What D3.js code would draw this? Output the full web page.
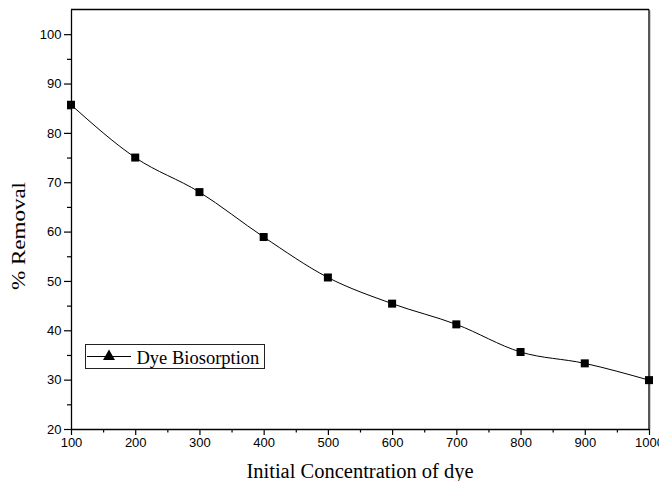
<!DOCTYPE html>
<html><head><meta charset="utf-8">
<script src="https://cdn.jsdelivr.net/npm/d3@7"></script>
<style>body{margin:0;background:#fff}svg{display:block}</style>
</head><body>
<script>
const concentrations = [100, 200, 300, 400, 500, 600, 700, 800, 900, 1000];
const removal = [85.7, 75.0, 68.0, 58.9, 50.7, 45.4, 41.2, 35.6, 33.3, 29.9];
const xTicks = [100, 200, 300, 400, 500, 600, 700, 800, 900, 1000];
const yTicks = [20, 30, 40, 50, 60, 70, 80, 90, 100];
const seriesName = "Dye Biosorption";
const xTitle = "Initial Concentration of dye";
const yTitle = "% Removal";

const W = 659, H = 481;
const m = {left: 71, right: 10, top: 9.5, bottom: 52};
const svg = d3.select("body").append("svg").attr("width", W).attr("height", H);
const x = d3.scaleLinear().domain([100, 1000]).range([m.left, W - m.right]);
const y = d3.scaleLinear().domain([20, 105]).range([H - m.bottom, m.top]);

// frame (top & right)
svg.append("line").attr("x1", x(1000)+1.2).attr("x2", x(1000)+1.2).attr("y1", y(105)+1).attr("y2", y(20)).attr("stroke", "#bbb").attr("stroke-width", 1);
svg.append("line").attr("x1", x(100)).attr("x2", x(1000)).attr("y1", y(105)).attr("y2", y(105)).attr("stroke", "#000").attr("stroke-width", 1.3);
svg.append("line").attr("x1", x(1000)).attr("x2", x(1000)).attr("y1", y(105)).attr("y2", y(20)).attr("stroke", "#000").attr("stroke-width", 1.3);

const font = "'Liberation Sans', Arial, sans-serif";
// x axis
const xMinor = d3.range(150, 1000, 100);
const xa = svg.append("g").attr("transform", `translate(0,${y(20)})`)
  .call(d3.axisBottom(x).tickValues(xTicks).tickSize(6).tickPadding(3).tickSizeOuter(0).tickFormat(d3.format("d")));
xa.select(".domain").attr("stroke-width", 1.3);
xa.selectAll(".tick line").attr("stroke-width", 1.2);
xa.selectAll("text").attr("font-family", font).attr("font-size", 13).attr("fill", "#000");
const xm = svg.append("g").attr("transform", `translate(0,${y(20)})`)
  .call(d3.axisBottom(x).tickValues(xMinor).tickSize(3.5).tickFormat("").tickSizeOuter(0));
xm.select(".domain").remove();
xm.selectAll(".tick line").attr("stroke-width", 1.2);

// y axis
const yMinor = d3.range(25, 105, 10);
const ya = svg.append("g").attr("transform", `translate(${x(100)},0)`)
  .call(d3.axisLeft(y).tickValues(yTicks).tickSize(7).tickPadding(2.5).tickSizeOuter(0));
ya.select(".domain").attr("stroke-width", 1.3);
ya.selectAll(".tick line").attr("stroke-width", 1.2);
ya.selectAll("text").attr("font-family", font).attr("font-size", 13).attr("fill", "#000");
const ym = svg.append("g").attr("transform", `translate(${x(100)},0)`)
  .call(d3.axisLeft(y).tickValues(yMinor).tickSize(4).tickFormat("").tickSizeOuter(0));
ym.select(".domain").remove();
ym.selectAll(".tick line").attr("stroke-width", 1.2);

// line
const pts = concentrations.map((c, i) => [c, removal[i]]);
svg.append("path").datum(pts)
  .attr("d", d3.line().x(d => x(d[0])).y(d => y(d[1])).curve(d3.curveMonotoneX))
  .attr("fill", "none").attr("stroke", "#000").attr("stroke-width", 1);
svg.selectAll("rect.pt").data(pts).join("rect").attr("class", "pt")
  .attr("x", d => x(d[0]) - 4).attr("y", d => y(d[1]) - 4)
  .attr("width", 8).attr("height", 8).attr("fill", "#000");

// titles
const serif = "'Liberation Serif', 'Times New Roman', serif";
svg.append("text").attr("x", 360).attr("y", 478).attr("text-anchor", "middle")
  .attr("font-family", serif).attr("font-size", 20.5).text(xTitle);
svg.append("text").attr("transform", `translate(25,236) rotate(-90)`)
  .attr("text-anchor", "middle").attr("font-family", serif).attr("font-size", 18.5)
  .attr("textLength", 108).attr("lengthAdjust", "spacingAndGlyphs").text(yTitle);

// legend
const lg = svg.append("g");
lg.append("rect").attr("x", 85.5).attr("y", 344.5).attr("width", 179).attr("height", 24)
  .attr("fill", "#fff").attr("stroke", "#222").attr("stroke-width", 1);
lg.append("line").attr("x1", 87).attr("x2", 131).attr("y1", 356.5).attr("y2", 356.5).attr("stroke", "#000");
lg.append("path").attr("d", d3.symbol().type(d3.symbolTriangle).size(62)).attr("transform", "translate(109,356.5)").attr("fill", "#000");
lg.append("text").attr("x", 136.5).attr("y", 364).attr("font-family", serif).attr("font-size", 18.5).text(seriesName);
</script>
</body></html>
